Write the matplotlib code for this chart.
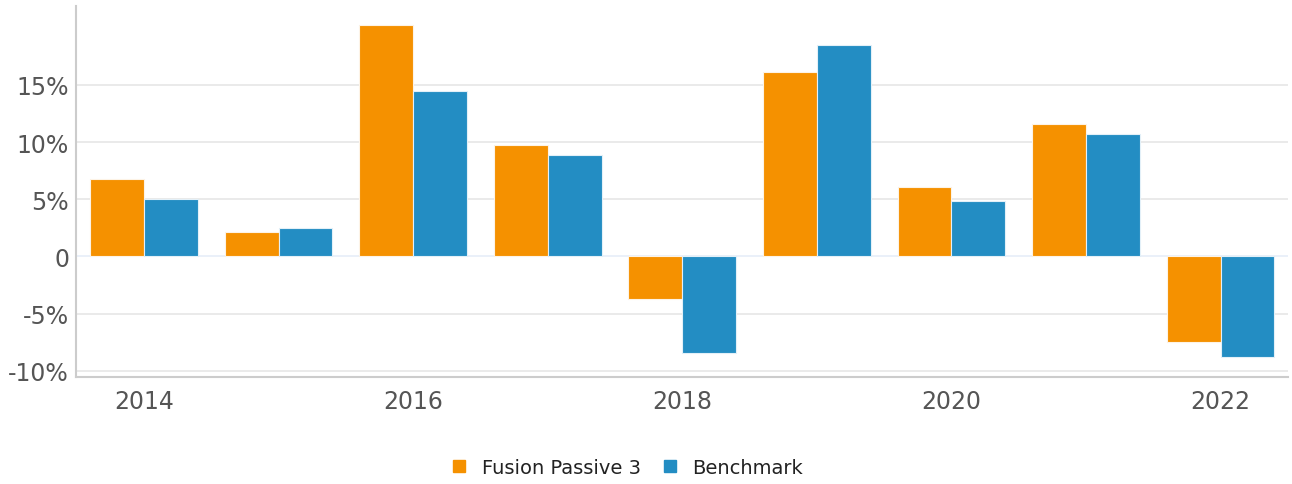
import matplotlib
matplotlib.use("Agg")
import matplotlib.pyplot as plt
from matplotlib.lines import Line2D
import numpy as np

years = [2014, 2015, 2016, 2017, 2018, 2019, 2020, 2021, 2022]
fusion = [6.76, 2.15, 20.28, 9.74, -3.68, 16.14, 6.05, 11.54, -7.46]
benchmark = [5.0, 2.45, 14.47, 8.86, -8.42, 18.5, 4.86, 10.72, -8.78]
series_names = ["Fusion Passive 3", "Benchmark"]
colors = ["#f59100", "#238dc3"]
yticks = [-10, -5, 0, 5, 10, 15]
ytick_labels = ["-10%", "-5%", "0", "5%", "10%", "15%"]

fig = plt.figure(figsize=(12.92, 4.85), dpi=100)
ax = fig.add_axes([0.0588, 0.2212, 0.938, 0.7644])

x = np.arange(len(years))
w = 0.4
ax.bar(x - w / 2, fusion, width=w, color=colors[0], edgecolor="#fdf3e6", linewidth=0.8, zorder=3)
ax.bar(x + w / 2, benchmark, width=w, color=colors[1], edgecolor="#e3f0f8", linewidth=0.8, zorder=3)

ax.set_xlim(-0.505, 8.5)
ax.set_ylim(-10.52, 21.9)

# grid
for t in yticks:
    if t == 0:
        ax.axhline(0, color="#e6eef8", lw=1.2, zorder=1)
    else:
        ax.axhline(t, color="#e6e6e6", lw=1.2, zorder=1)

ax.set_yticks(yticks)
ax.set_yticklabels(ytick_labels)
ax.set_xticks(x[::2])
ax.set_xticklabels([str(y) for y in years[::2]])
ax.tick_params(axis="both", length=0, labelsize=17, labelcolor="#555555")
ax.tick_params(axis="y", pad=5)
ax.tick_params(axis="x", pad=9)

for s in ["top", "right"]:
    ax.spines[s].set_visible(False)
ax.spines["left"].set_color("#cccccc")
ax.spines["bottom"].set_color("#cccccc")
ax.spines["left"].set_linewidth(1.5)
ax.spines["bottom"].set_linewidth(1.5)

handles = [Line2D([], [], marker="s", linestyle="none", markersize=9,
                  markerfacecolor=c, markeredgecolor=c) for c in colors]
fig.legend(handles, series_names, loc="center", bbox_to_anchor=(0.481, 0.035),
           ncol=2, frameon=False, fontsize=14, handletextpad=0.15,
           columnspacing=0.5, labelcolor="#222222")

fig.savefig("out.png", dpi=100)
